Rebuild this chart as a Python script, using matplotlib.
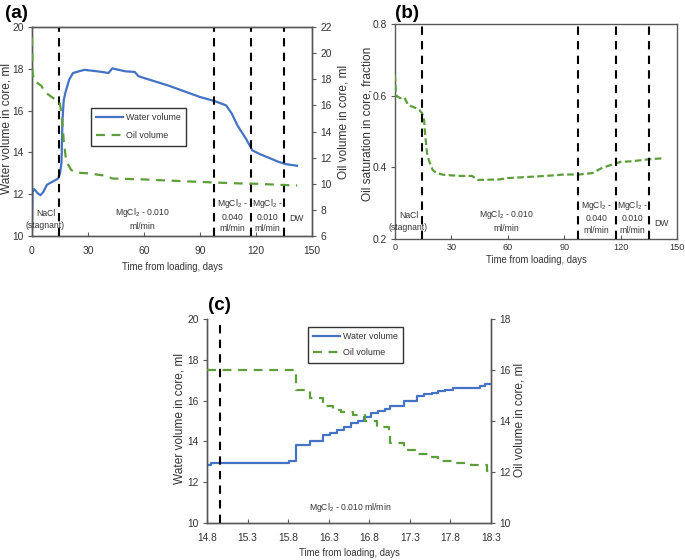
import matplotlib
matplotlib.use("Agg")
import matplotlib.pyplot as plt
from matplotlib.lines import Line2D
from matplotlib import font_manager as fm

names = {f.name for f in fm.fontManager.ttflist}
base_fam = [n for n in ['Liberation Sans Narrow', 'Liberation Sans', 'DejaVu Sans'] if n in names]
plt.rcParams['font.family'] = base_fam
plt.rcParams['mathtext.default'] = 'regular'

# ---------------- data ----------------
# Panel (a)
a_water_t = [0, 0.3, 1, 3, 4.5, 6, 8, 10, 12, 14, 15, 15.8, 16.3, 17, 18, 19, 20, 22, 24, 28,
             35, 41, 43, 50, 55, 57, 60, 73, 90, 98, 104, 107, 110, 115, 118, 122, 128, 132, 136, 142]
a_water_v = [10.2, 12.1, 12.25, 12.05, 11.95, 12.1, 12.45, 12.55, 12.65, 12.75, 13.0, 13.5, 15.5,
             16.5, 16.9, 17.2, 17.5, 17.8, 17.85, 17.95, 17.88, 17.8, 18.02, 17.88, 17.85, 17.65,
             17.56, 17.2, 16.65, 16.45, 16.25, 15.86, 15.3, 14.6, 14.1, 13.92, 13.7, 13.55, 13.44, 13.36]
a_oil_t = [0, 0.3, 1, 3, 5, 7, 9, 12, 14, 15, 16, 17, 18, 19, 21, 24, 30, 40, 43, 60, 80, 97,
           110, 120, 135, 142]
a_oil_v = [21.2, 18.6, 17.9, 17.7, 17.5, 17.0, 16.8, 16.5, 16.4, 16.1, 15.1, 13.3, 12.1, 11.55,
           11.05, 10.85, 10.8, 10.6, 10.4, 10.33, 10.2, 10.1, 10.03, 10.0, 9.9, 9.87]
a_events = [14.6, 97.5, 117.5, 135.0]

# Panel (b)
b_t = [0, 0.5, 1, 3, 5, 7, 10, 13, 14.5, 15.5, 16, 17, 18, 20, 22, 26, 35, 41, 44, 55, 60, 70,
       80, 90, 98, 105, 110, 115, 120, 126, 136, 142]
b_so = [0.658, 0.607, 0.598, 0.593, 0.595, 0.574, 0.568, 0.56, 0.55, 0.53, 0.495, 0.44, 0.42,
        0.393, 0.384, 0.379, 0.376, 0.376, 0.365, 0.366, 0.37, 0.373, 0.376, 0.38, 0.38, 0.384,
        0.398, 0.407, 0.415, 0.417, 0.423, 0.425]
b_events = [14.6, 97.3, 117.3, 135.0]

# Panel (c) (step data)
c_water_t = [14.8, 14.85, 15.81, 15.9, 16.07, 16.23, 16.31, 16.4, 16.49, 16.58, 16.66, 16.73,
             16.82, 16.91, 16.99, 17.06, 17.23, 17.39, 17.48, 17.57, 17.65, 17.73, 17.83, 17.98,
             18.16, 18.23, 18.3]
c_water_v = [12.85, 12.95, 13.05, 13.8, 14.0, 14.3, 14.4, 14.55, 14.7, 14.9, 15.0, 15.2, 15.4,
             15.5, 15.6, 15.75, 16.0, 16.25, 16.3, 16.35, 16.45, 16.5, 16.6, 16.62, 16.7, 16.8, 16.8]
c_oil_t = [14.8, 15.88, 15.9, 16.07, 16.23, 16.35, 16.45, 16.6, 16.75, 16.9, 17.04, 17.06, 17.23,
           17.39, 17.55, 17.65, 17.83, 18.05, 18.25, 18.3]
c_oil_v = [16.0, 15.9, 15.2, 14.9, 14.57, 14.45, 14.35, 14.25, 14.0, 13.75, 13.45, 13.14, 12.87,
           12.7, 12.6, 12.42, 12.35, 12.28, 12.05, 12.05]
c_event = 14.96

blue = '#4472C4'
green = '#5E9E3A'
spine_c = '#595959'
txt_c = '#333333'

W, H = 685, 560
fig = plt.figure(figsize=(W / 100, H / 100), dpi=100)
rend = fig.canvas.get_renderer()


def fit(s, target_px, **kw):
    t = fig.text(0, 0, s, fontsize=10, **kw)
    w = t.get_window_extent(rend).width
    t.remove()
    return 10 * target_px / w


fs_tick = fit('20', 11.5)
fs_x = fit('Time from loading, days', 102)
fs_y = fit('Water volume in core, ml', 132)
fs_txt = fit('MgCl$_2$ - 0.010 ml/min', 82)
fs_leg = fit('Water volume', 55)
fs_pan = fit('(a)', 23, fontweight='bold', family=['Liberation Sans', 'DejaVu Sans'])


def fx(px):
    return px / W


def fy(py):
    return 1 - py / H


def style(ax, xpad=7, xsize=None):
    for s in ax.spines.values():
        s.set_color(spine_c)
        s.set_linewidth(1.0)
    ax.tick_params(axis='x', direction='in', length=3, labelsize=xsize or fs_tick, colors=spine_c,
                   labelcolor=txt_c, pad=xpad)
    ax.tick_params(axis='y', direction='out', length=3, labelsize=fs_tick, colors=spine_c, labelcolor=txt_c, pad=3)


def ylab(ax, s, xp, yp):
    ax.set_ylabel(s, fontsize=fs_y, color=txt_c)
    lb = ax.yaxis.label
    lb.set_rotation(90)
    lb.set_rotation_mode('anchor')
    lb.set_ha('center')
    lb.set_va('center')
    ax.yaxis.set_label_coords(fx(xp), fy(yp), transform=fig.transFigure)


def xlab(ax, s, xp, yp):
    ax.set_xlabel(s, fontsize=fs_x, color=txt_c)
    lb = ax.xaxis.label
    lb.set_va('center')
    ax.xaxis.set_label_coords(fx(xp), fy(yp), transform=fig.transFigure)


def vlines(ax, xs):
    for x in xs:
        ax.axvline(x, color='black', lw=1.5, dashes=(4, 3), zorder=5)


fs_px = fs_leg * 100 / 72
legkw = dict(loc='upper left', fontsize=fs_leg, frameon=True, fancybox=False, handlelength=27 / fs_px,
             borderpad=0.6, handletextpad=0.3, labelcolor=txt_c, borderaxespad=0)
bold = dict(fontsize=fs_pan, fontweight='bold', ha='left', va='center', family=['Liberation Sans', 'DejaVu Sans'])
tk = dict(fontsize=fs_txt, ha='center', va='center', color=txt_c, linespacing=1.35)
handles = [Line2D([], [], color=blue, lw=1.6), Line2D([], [], color=green, lw=1.6, dashes=(4, 3))]

# ---------- (a) ----------
axa = fig.add_axes([fx(32), fy(236), fx(312 - 32), (236 - 27) / H])
axa.plot(a_water_t, a_water_v, color=blue, lw=1.6, zorder=3)
axa.set_xlim(0, 150)
axa.set_ylim(10, 20)
axa.set_xticks([0, 30, 60, 90, 120, 150])
axa.set_yticks([10, 12, 14, 16, 18, 20])
xlab(axa, 'Time from loading, days', 172, 267)
ylab(axa, 'Water volume in core, ml', 7, 128)
vlines(axa, a_events)
axa2 = axa.twinx()
axa2.plot(a_oil_t, a_oil_v, color=green, lw=1.6, dashes=(4, 3), zorder=3)
axa2.set_ylim(6, 22)
axa2.set_yticks([6, 8, 10, 12, 14, 16, 18, 20, 22])
ylab(axa2, 'Oil volume in core, ml', 344, 122)
style(axa); style(axa2)
leg = axa2.legend(handles, ['Water volume', 'Oil volume'], labelspacing=1.0,
                  bbox_to_anchor=((91 - 32) / 280, (236 - 108) / 209), **legkw)
leg.get_frame().set_edgecolor('black'); leg.get_frame().set_linewidth(1.0)
axa.text(7.2, 10.78, 'NaCl\n(stagnant)', **tk)
axa.text(59, 10.83, 'MgCl$_2$ - 0.010\nml/min', **tk)
axa.text(107.5, 11.0, 'MgCl$_2$ -\n0.040\nml/min', **tk)
axa.text(126.3, 11.0, 'MgCl$_2$ -\n0.010\nml/min', **tk)
axa.text(141.5, 10.85, 'DW', **tk)
fig.text(fx(5), fy(13), '(a)', **bold)

# ---------- (b) ----------
axb = fig.add_axes([fx(395), fy(239), fx(677 - 395), (239 - 24) / H])
axb.plot(b_t, b_so, color=green, lw=1.6, dashes=(3, 1.5), zorder=3)
axb.set_xlim(0, 150)
axb.set_ylim(0.2, 0.8)
axb.set_xticks([0, 30, 60, 90, 120, 150])
axb.set_yticks([0.2, 0.4, 0.6, 0.8])
xlab(axb, 'Time from loading, days', 536, 260)
ylab(axb, 'Oil saturation in core, fraction', 367, 124)
vlines(axb, b_events)
style(axb, xpad=3, xsize=fs_tick * 0.9)
axb.text(7.2, 0.249, 'NaCl\n(stagnant)', **tk)
axb.text(59, 0.252, 'MgCl$_2$ - 0.010\nml/min', **tk)
axb.text(107, 0.262, 'MgCl$_2$ -\n0.040\nml/min', **tk)
axb.text(126.3, 0.262, 'MgCl$_2$ -\n0.010\nml/min', **tk)
axb.text(141.5, 0.243, 'DW', **tk)
fig.text(fx(395), fy(13), '(b)', **bold)

# ---------- (c) ----------
axc = fig.add_axes([fx(207), fy(523), fx(491 - 207), (523 - 319) / H])
axc.step(c_water_t, c_water_v, where='post', color=blue, lw=1.6, zorder=3)
axc.set_xlim(14.8, 18.3)
axc.set_ylim(10, 20)
axc.set_xticks([14.8, 15.3, 15.8, 16.3, 16.8, 17.3, 17.8, 18.3])
axc.set_xticklabels(['14.8', '15.3', '15.8', '16.3', '16.8', '17.3', '17.8', '18.3'])
axc.set_yticks([10, 12, 14, 16, 18, 20])
xlab(axc, 'Time from loading, days', 349, 553)
ylab(axc, 'Water volume in core, ml', 180, 418)
axc.axvline(c_event, color='black', lw=1.5, dashes=(4, 3), zorder=5)
axc2 = axc.twinx()
axc2.step(c_oil_t, c_oil_v, where='post', color=green, lw=1.6, dashes=(4, 3), zorder=3)
axc2.set_ylim(10, 18)
axc2.set_yticks([10, 12, 14, 16, 18])
ylab(axc2, 'Oil volume in core, ml', 520, 420)
style(axc); style(axc2)
axc.spines['top'].set_visible(False); axc2.spines['top'].set_visible(False)
leg = axc2.legend(handles, ['Water volume', 'Oil volume'], labelspacing=0.8,
                  bbox_to_anchor=((308 - 207) / 284, (523 - 327) / 204), **legkw)
leg.get_frame().set_edgecolor('black'); leg.get_frame().set_linewidth(1.0)
axc.text(16.57, 10.75, 'MgCl$_2$ - 0.010 ml/min', **tk)
fig.text(fx(208), fy(306), '(c)', **bold)

fig.savefig('out.png', dpi=100)
